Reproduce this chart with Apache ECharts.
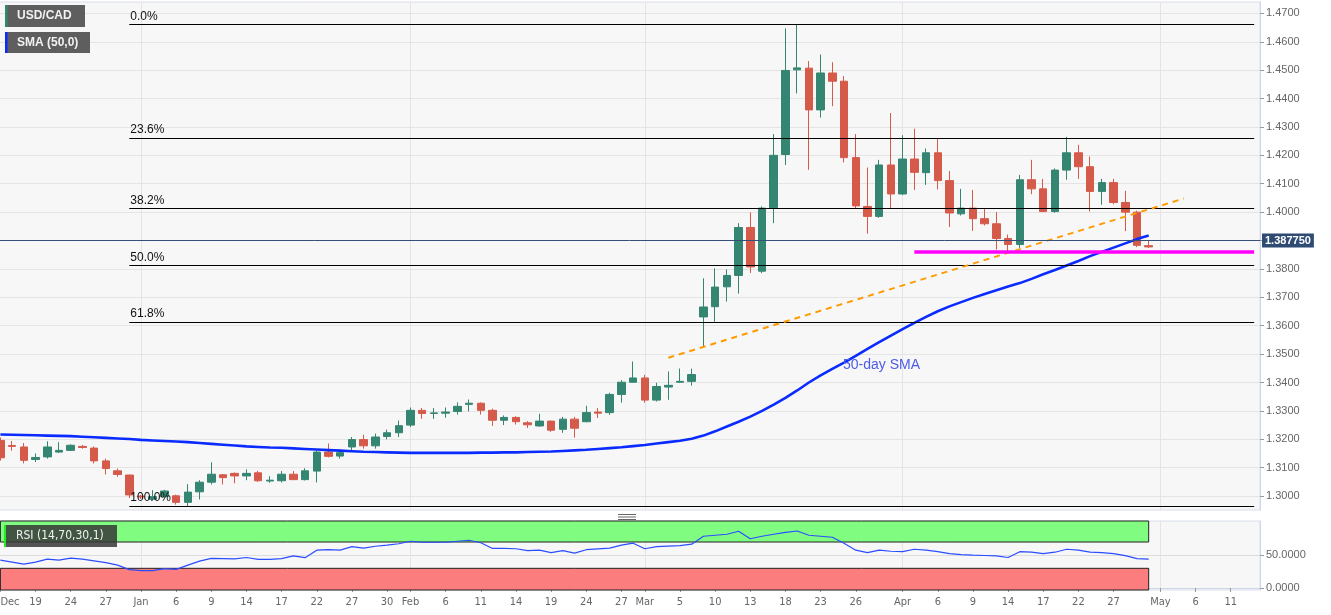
<!DOCTYPE html>
<html>
<head>
<meta charset="utf-8">
<script src="https://cdn.jsdelivr.net/npm/echarts@6/dist/echarts.min.js"></script>
<style>
html,body{margin:0;padding:0;background:#fff;}
#c{width:1331px;height:615px;}
</style>
</head>
<body>
<div id="c"></div>
<script>
const categories = [
'12-16','12-17','12-18','12-19','12-20','12-23','12-24','12-25','12-26','12-27','12-30','12-31',
'01-01','01-02','01-03','01-06','01-07','01-08','01-09','01-10','01-13','01-14','01-15','01-16','01-17',
'01-20','01-21','01-22','01-23','01-24','01-27','01-28','01-29','01-30','01-31',
'02-03','02-04','02-05','02-06','02-07','02-10','02-11','02-12','02-13','02-14',
'02-17','02-18','02-19','02-20','02-21','02-24','02-25','02-26','02-27','02-28',
'03-02','03-03','03-04','03-05','03-06','03-09','03-10','03-11','03-12','03-13',
'03-16','03-17','03-18','03-19','03-20','03-23','03-24','03-25','03-26','03-27','03-30','03-31',
'04-01','04-02','04-03','04-06','04-07','04-08','04-09','04-10','04-13','04-14','04-15','04-16','04-17',
'04-20','04-21','04-22','04-23','04-24','04-27','04-28','04-29','04-30',
'05-01','05-04','05-05','05-06','05-07','05-08','05-11','05-12','05-13'
];
const open = [
1.3196,1.3178,1.3173,1.3129,1.3138,1.3155,1.3161,1.3175,1.3169,1.3124,
1.3089,1.3074,1.3000,1.2989,1.2998,1.3001,1.2978,1.3015,1.3049,1.3075,
1.3080,1.3071,1.3082,1.3053,1.3054,1.3077,1.3058,1.3088,1.3155,1.3141,
1.3173,1.3199,1.3177,1.3210,1.3223,1.3250,1.3302,1.3291,1.3292,1.3298,
1.3323,1.3327,1.3302,1.3267,1.3277,1.3258,1.3247,1.3264,1.3235,1.3271,
1.3262,1.3296,1.3294,1.3358,1.3401,1.3416,1.3338,1.3384,1.3401,1.3404,
1.3631,1.3667,1.3737,1.3777,1.3946,1.3792,1.4016,1.4203,1.4501,1.4507,
1.4360,1.4490,1.4461,1.4192,1.4020,1.3985,1.4166,1.4064,1.4187,1.4139,
1.4209,1.4111,1.3994,1.4014,1.3977,1.3959,1.3907,1.3886,1.4114,1.4082,
1.4002,1.4148,1.4209,1.4160,1.4073,1.4104,1.4034,1.4000,1.3882
];
const high = [
1.3206,1.3194,1.3187,1.3150,1.3193,1.3190,1.3182,1.3180,1.3175,1.3132,
1.3097,1.3076,1.3004,1.3021,1.3022,1.3005,1.3042,1.3056,1.3119,1.3078,
1.3083,1.3094,1.3089,1.3070,1.3088,1.3088,1.3098,1.3161,1.3185,1.3164,
1.3208,1.3216,1.3220,1.3234,1.3266,1.3312,1.3310,1.3310,1.3312,1.3330,
1.3340,1.3330,1.3308,1.3284,1.3281,1.3264,1.3290,1.3266,1.3279,1.3279,
1.3318,1.3310,1.3364,1.3408,1.3474,1.3427,1.3399,1.3439,1.3449,1.3449,
1.3767,1.3802,1.3798,1.3961,1.3999,1.4020,1.4275,1.4647,1.4661,1.4532,
1.4555,1.4528,1.4479,1.4275,1.4157,1.4184,1.4349,1.4271,1.4294,1.4224,
1.4259,1.4145,1.4082,1.4078,1.4011,1.4000,1.3921,1.4131,1.4184,1.4117,
1.4154,1.4265,1.4237,1.4196,1.4117,1.4117,1.4075,1.4005,1.3900
];
const low = [
1.3125,1.3160,1.3115,1.3120,1.3132,1.3152,1.3159,1.3167,1.3115,1.3076,
1.3068,1.2993,1.2990,1.2986,1.2995,1.2970,1.2965,1.2988,1.3041,1.3041,
1.3045,1.3056,1.3050,1.3047,1.3048,1.3056,1.3055,1.3048,1.3136,1.3132,
1.3161,1.3167,1.3167,1.3200,1.3208,1.3243,1.3272,1.3272,1.3276,1.3287,
1.3298,1.3287,1.3247,1.3250,1.3252,1.3240,1.3244,1.3226,1.3223,1.3206,
1.3260,1.3275,1.3286,1.3329,1.3399,1.3329,1.3333,1.3339,1.3399,1.3389,
1.3526,1.3614,1.3685,1.3713,1.3786,1.3785,1.3961,1.4166,1.4418,1.4149,
1.4333,1.4373,1.4175,1.4011,1.3924,1.3980,1.4011,1.4060,1.4078,1.4096,
1.4080,1.3948,1.3988,1.3934,1.3953,1.3868,1.3862,1.3874,1.4063,1.4000,
1.3998,1.4114,1.4117,1.4002,1.4026,1.4028,1.3933,1.3877,1.3874
];
const close = [
1.3135,1.3175,1.3126,1.3136,1.3173,1.3161,1.3179,1.3171,1.3124,1.3097,
1.3076,1.3004,1.2997,1.2998,1.3018,1.2978,1.3014,1.3049,1.3077,1.3065,
1.3071,1.3080,1.3054,1.3056,1.3077,1.3058,1.3089,1.3155,1.3140,1.3153,
1.3199,1.3177,1.3208,1.3223,1.3248,1.3302,1.3291,1.3293,1.3296,1.3316,
1.3327,1.3302,1.3267,1.3277,1.3262,1.3251,1.3264,1.3232,1.3271,1.3239,
1.3294,1.3292,1.3358,1.3401,1.3416,1.3338,1.3386,1.3390,1.3404,1.3428,
1.3666,1.3736,1.3777,1.3946,1.3807,1.4014,1.4200,1.4499,1.4508,1.4360,
1.4490,1.4461,1.4192,1.4022,1.3985,1.4166,1.4064,1.4187,1.4140,1.4209,
1.4111,1.3997,1.4014,1.3977,1.3959,1.3907,1.3886,1.4114,1.4082,1.4002,
1.4148,1.4209,1.4160,1.4073,1.4104,1.4034,1.4000,1.3883,1.38775
];
const sma50 = [
1.3217,1.3216,1.3215,1.3214,1.3213,1.3212,1.3211,1.3209,1.3207,1.3205,
1.3203,1.3201,1.3198,1.3196,1.3194,1.3192,1.3190,1.3187,1.3184,1.3181,
1.3178,1.3175,1.3173,1.3171,1.3170,1.3168,1.3166,1.3164,1.3162,1.3160,
1.3158,1.3156,1.3155,1.3154,1.3153,1.3152,1.3152,1.3152,1.3152,1.3152,
1.3152,1.3153,1.3153,1.3154,1.3154,1.3155,1.3156,1.3157,1.3159,1.3161,
1.3163,1.3166,1.3169,1.3172,1.3176,1.3180,1.3185,1.3190,1.3195,1.3202,
1.3213,1.3228,1.3245,1.3262,1.3280,1.3300,1.3322,1.3346,1.3372,1.3400,
1.3425,1.3448,1.3470,1.3494,1.3518,1.3542,1.3565,1.3588,1.3610,1.3631,
1.3651,1.3668,1.3683,1.3698,1.3712,1.3725,1.3738,1.3750,1.3765,1.3781,
1.3796,1.3812,1.3828,1.3845,1.3860,1.3875,1.3890,1.3905,1.3918
];
const rsi = [
42.4,39.4,36.4,39.4,43.9,42.4,45.5,44.0,41.4,38.6,
34.8,28.0,26.5,26.5,29.5,28.3,34.8,40.9,45.0,44.7,
44.4,46.5,43.5,43.6,44.7,48.9,46.2,57.6,58.3,57.6,
62.9,60.6,63.6,65.2,67.4,71.2,69.7,69.7,69.7,71.2,
72.7,68.9,60.2,60.2,59.8,56.8,57.6,53.8,56.8,53.0,
58.3,59.5,60.6,65.2,68.2,59.8,62.9,63.9,64.4,66.7,
78.8,80.3,81.8,86.4,75.0,78.8,81.8,84.8,86.8,80.3,
78.8,77.3,68.2,57.6,53.8,57.6,56.0,55.3,59.0,57.6,
55.3,52.3,50.8,50.0,49.5,48.9,46.5,55.3,54.5,52.3,
54.5,59.0,57.6,54.5,53.8,52.3,49.2,44.7,43.9
];
const tickDates = ['12-16','12-19','12-24','12-27','01-01','01-06','01-09','01-14','01-17','01-22','01-27','01-30',
'02-03','02-06','02-11','02-14','02-19','02-24','02-27','03-02','03-05','03-10','03-13','03-18','03-23','03-26',
'04-01','04-06','04-09','04-14','04-17','04-22','04-27','05-01','05-06','05-11'];
const tickLabels = ['Dec','19','24','27','Jan','6','9','14','17','22','27','30',
'Feb','6','11','14','19','24','27','Mar','5','10','13','18','23','26',
'Apr','6','9','14','17','22','27','May','6','11'];
const monthStarts = ['01-01','02-03','03-02','04-01','05-01'];
const priceTicks = [1.30,1.31,1.32,1.33,1.34,1.35,1.36,1.37,1.38,1.39,1.40,1.41,1.42,1.43,1.44,1.45,1.46,1.47];
const rsiTicks = [0, 50];
const fibLabels = ['0.0%','23.6%','38.2%','50.0%','61.8%','100.0%'];
const fibLevels = [1.4661, 1.4261, 1.4013, 1.3813, 1.3613, 1.2965];
const fibStart = '12-31';
const lastPrice = 1.38775;
const supportLevel = 1.3862;
const supportStart = '04-02';
const trendStart = ['03-04', 1.3487];
const trendEnd = ['05-05', 1.4048];
const rsiUpper = 70, rsiLower = 30;

const lastCat = categories[categories.length - 1];
const lastData = categories[close.length - 1];
const candleData = open.map((o, i) => [o, close[i], low[i], high[i]]);
const tickSet = new Set(tickDates);
const monthSet = new Set(monthStarts);
const labelOf = {};
tickDates.forEach((d, i) => { labelOf[d] = tickLabels[i]; });

const UP = '#348571', DOWN = '#d55a4a';
const LEFT = -5.46, RIGHT = 71;

const chart = echarts.init(document.getElementById('c'), null, {renderer: 'canvas'});
chart.setOption({
  animation: false,
  backgroundColor: '#ffffff',
  grid: [
    {left: LEFT, right: RIGHT, top: 2, height: 508, show: true, backgroundColor: '#f7f7f7', borderColor: '#d8deea', borderWidth: 1, containLabel: false, outerBoundsMode: 'none'},
    {left: LEFT, right: RIGHT, top: 521, height: 69, show: true, backgroundColor: '#f7f7f7', borderColor: '#d8deea', borderWidth: 1, containLabel: false, outerBoundsMode: 'none'}
  ],
  xAxis: [
    {type: 'category', gridIndex: 0, data: categories, boundaryGap: true,
     axisLine: {show: false}, axisTick: {show: false}, axisLabel: {show: false},
     splitLine: {show: true, alignWithLabel: true, interval: (i, v) => monthSet.has(v), lineStyle: {color: '#e4e4e4', width: 1}}},
    {type: 'category', gridIndex: 1, data: categories, boundaryGap: true,
     axisLine: {show: true, lineStyle: {color: '#ccd6eb'}},
     axisTick: {show: true, alignWithLabel: true, length: 4, interval: (i, v) => tickSet.has(v), lineStyle: {color: '#999'}},
     axisLabel: {show: true, interval: (i, v) => tickSet.has(v), formatter: v => labelOf[v] || '', color: '#666',
       fontSize: 11, fontFamily: '"Liberation Sans Narrow","DejaVu Sans Condensed",sans-serif', margin: 7, alignMinLabel: 'left'},
     splitLine: {show: true, alignWithLabel: true, interval: (i, v) => monthSet.has(v), lineStyle: {color: '#e4e4e4', width: 1}}}
  ],
  yAxis: [
    {type: 'value', gridIndex: 0, position: 'right', min: 1.2951, max: 1.4740, scale: true,
     axisLine: {show: true, lineStyle: {color: '#ccd6eb'}},
     axisTick: {show: true, length: 4, customValues: priceTicks, lineStyle: {color: '#999'}},
     axisLabel: {customValues: priceTicks, formatter: v => v.toFixed(4), color: '#666', fontSize: 11, fontFamily: '"Liberation Sans",Arial,sans-serif', margin: 6},
     splitLine: {show: true, lineStyle: {color: '#e4e4e4', width: 1}}},
    {type: 'value', gridIndex: 1, position: 'right', min: -3, max: 102,
     axisLine: {show: true, lineStyle: {color: '#ccd6eb'}},
     axisTick: {show: true, length: 4, customValues: rsiTicks, lineStyle: {color: '#999'}},
     axisLabel: {customValues: rsiTicks, formatter: v => v.toFixed(4), color: '#666', fontSize: 11, fontFamily: '"Liberation Sans",Arial,sans-serif', margin: 6},
     splitLine: {show: true, lineStyle: {color: '#dcdcdc', width: 1}}}
  ],
  series: [
    {type: 'candlestick', name: 'USD/CAD', xAxisIndex: 0, yAxisIndex: 0, data: candleData, barWidth: 8, z: 2,
     itemStyle: {color: UP, color0: DOWN, borderColor: UP, borderColor0: DOWN, borderWidth: 1}},
    {type: 'line', name: 'SMA (50,0)', xAxisIndex: 0, yAxisIndex: 0, data: sma50, showSymbol: false, symbol: 'none', z: 3,
     lineStyle: {color: '#0a2bff', width: 2.6}},
    {type: 'line', name: 'levels', xAxisIndex: 0, yAxisIndex: 0, data: [], z: 4,
     markLine: {silent: true, symbol: ['none', 'none'], animation: false,
       data: [
         ...fibLevels.map((lv, k) => [
           {coord: [fibStart, lv], lineStyle: {color: '#000', width: 1.2, type: 'solid'},
            label: {show: true, position: 'insideStartTop', formatter: fibLabels[k], color: '#111', fontSize: 12, distance: [1, 2], fontFamily: '"Liberation Sans",Arial,sans-serif'}},
           {coord: [lastCat, lv]}
         ]),
         [{coord: trendStart, lineStyle: {color: '#ff9a00', width: 2, type: [6, 5]}, label: {show: false}}, {coord: trendEnd}],
         [{coord: [supportStart, supportLevel], lineStyle: {color: '#ff00ff', width: 3.5, type: 'solid'}, label: {show: false}}, {coord: [lastCat, supportLevel]}],
         {yAxis: lastPrice, lineStyle: {color: '#34507a', width: 1, type: 'solid'},
          label: {show: true, position: 'end', formatter: '1.387750', color: '#fff', backgroundColor: '#2f4b74', padding: [2, 3, 1, 3],
            fontWeight: 'bold', fontSize: 11, distance: 2, fontFamily: '"Liberation Sans",Arial,sans-serif'}}
       ]}},
    {type: 'line', name: 'bands', xAxisIndex: 1, yAxisIndex: 1, data: [], z: 1,
     markArea: {silent: true,
       data: [
         [{xAxis: categories[0], yAxis: rsiUpper, itemStyle: {color: '#80fc80', borderColor: '#222', borderWidth: 1}}, {xAxis: lastData, yAxis: 102}],
         [{xAxis: categories[0], yAxis: -3, itemStyle: {color: '#fb7d7d', borderColor: '#222', borderWidth: 1}}, {xAxis: lastData, yAxis: rsiLower}]
       ]}},
    {type: 'line', name: 'RSI', xAxisIndex: 1, yAxisIndex: 1, data: rsi, showSymbol: false, symbol: 'none', z: 3,
     lineStyle: {color: '#2a4dff', width: 1.2}}
  ],
  graphic: [
    {type: 'rect', z: 100, shape: {x: 5, y: 5, width: 80, height: 22}, style: {fill: 'rgba(80,80,80,0.92)'}},
    {type: 'rect', z: 101, shape: {x: 5, y: 5, width: 2.5, height: 22}, style: {fill: '#2e8b6e'}},
    {type: 'text', z: 102, x: 17, y: 16, style: {text: 'USD/CAD', fill: '#f2f2f2', font: 'bold 12px "Liberation Sans",Arial,sans-serif', textVerticalAlign: 'middle'}},
    {type: 'rect', z: 100, shape: {x: 5, y: 32, width: 85, height: 21}, style: {fill: 'rgba(80,80,80,0.92)'}},
    {type: 'rect', z: 101, shape: {x: 5, y: 32, width: 2.5, height: 21}, style: {fill: '#0a2bff'}},
    {type: 'text', z: 102, x: 17, y: 43, style: {text: 'SMA (50,0)', fill: '#f2f2f2', font: 'bold 12px "Liberation Sans",Arial,sans-serif', textVerticalAlign: 'middle'}},
    {type: 'rect', z: 100, shape: {x: 4, y: 525, width: 113, height: 22}, style: {fill: 'rgba(55,55,55,0.85)'}},
    {type: 'rect', z: 101, shape: {x: 4, y: 525, width: 2, height: 22}, style: {fill: '#22ee22'}},
    {type: 'text', z: 102, x: 16, y: 536, style: {text: 'RSI (14,70,30,1)', fill: '#f2f2f2', font: '12px "Liberation Sans Narrow","DejaVu Sans Condensed",sans-serif', textVerticalAlign: 'middle'}},
    {type: 'text', z: 102, x: 843, y: 358, style: {text: '50-day SMA', fill: '#4d5bea', font: '14px "Liberation Sans",Arial,sans-serif'}},
    {type: 'line', z: 102, shape: {x1: 618, y1: 514.5, x2: 636, y2: 514.5}, style: {stroke: '#666', lineWidth: 1}},
    {type: 'line', z: 102, shape: {x1: 618, y1: 517, x2: 636, y2: 517}, style: {stroke: '#666', lineWidth: 1}},
    {type: 'line', z: 102, shape: {x1: 618, y1: 519.5, x2: 636, y2: 519.5}, style: {stroke: '#666', lineWidth: 1}}
  ]
});
</script>
</body>
</html>
